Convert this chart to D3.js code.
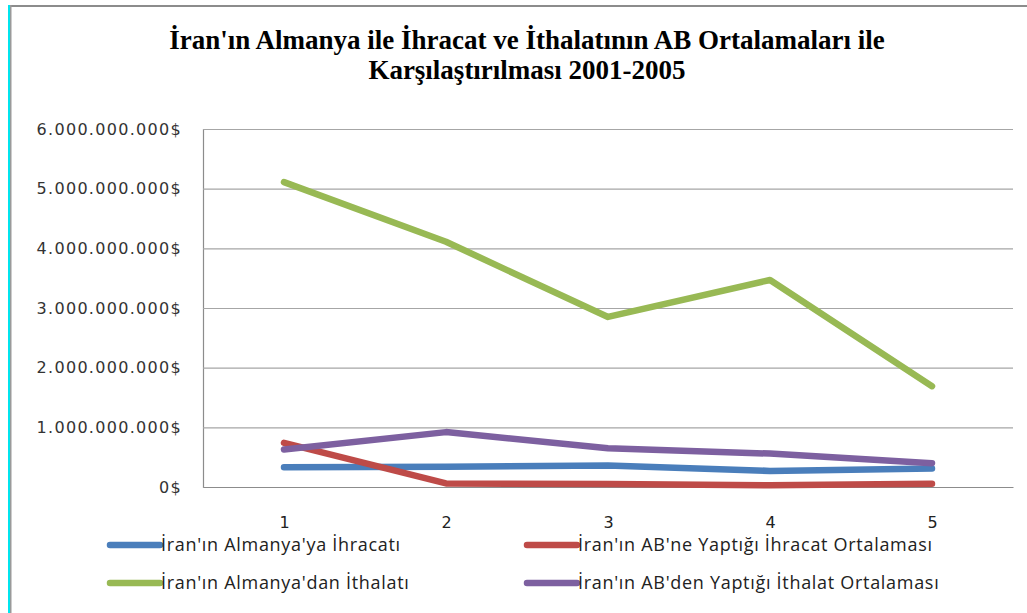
<!DOCTYPE html>
<html>
<head>
<meta charset="utf-8">
<script src="https://cdn.jsdelivr.net/npm/d3@7"></script>
<style>
  html, body { margin: 0; padding: 0; background: #fff; }
  svg { display: block; }
</style>
</head>
<body>
<svg id="chart" width="1027" height="613"></svg>
<script>
// ---- data ----
const categories = ["1", "2", "3", "4", "5"];
const seriesNames = [
  "İran'ın Almanya'ya İhracatı",
  "İran'ın AB'ne Yaptığı İhracat Ortalaması",
  "İran'ın Almanya'dan İthalatı",
  "İran'ın AB'den Yaptığı İthalat Ortalaması"
];
const almanyayaIhracat = [330000000, 340000000, 360000000, 270000000, 310000000];
const abIhracatOrt = [740000000, 60000000, 50000000, 30000000, 55000000];
const almanyadanIthalat = [5110000000, 4110000000, 2850000000, 3470000000, 1690000000];
const abIthalatOrt = [630000000, 920000000, 650000000, 560000000, 400000000];
const yTicks = [0, 1000000000, 2000000000, 3000000000, 4000000000, 5000000000, 6000000000];
const titleLines = ["İran'ın Almanya ile İhracat ve İthalatının AB Ortalamaları ile", "Karşılaştırılması 2001-2005"];

// ---- drawing ----
const svg = d3.select("#chart");
const colors = ["#4A7EBB", "#BE4B48", "#98B954", "#7D60A0"];
const seriesValues = [almanyayaIhracat, abIhracatOrt, almanyadanIthalat, abIthalatOrt];

// outer frame hints
svg.append("rect").attr("x", 8).attr("y", 5).attr("width", 1019).attr("height", 2).attr("fill", "#8c8c8c");
svg.append("rect").attr("x", 10).attr("y", 5).attr("width", 1.5).attr("height", 608).attr("fill", "#9a9a9a");
svg.append("rect").attr("x", 8).attr("y", 5).attr("width", 2).attr("height", 608).attr("fill", "#00e5ee");

// title
svg.append("g").selectAll("text").data(titleLines).join("text")
  .attr("x", 527).attr("y", (d, i) => 49 + i * 30)
  .attr("text-anchor", "middle")
  .attr("font-family", "'Liberation Serif', 'Times New Roman', serif")
  .attr("font-weight", "bold")
  .attr("font-size", 27)
  .attr("letter-spacing", 0)
  .text(d => d);

const plot = { left: 203, right: 1013, top: 129, bottom: 487 };

const x = d3.scalePoint().domain(categories).range([plot.left, plot.right]).padding(0.5);
const y = d3.scaleLinear().domain([0, 6000000000]).range([plot.bottom, plot.top]);

const locale = d3.formatLocale({ decimal: ",", thousands: ".", grouping: [3], currency: ["", "$"] });
const fmt = locale.format(",.0f");

// y axis with gridlines
const yAxis = d3.axisLeft(y).tickValues(yTicks).tickSize(-(plot.right - plot.left)).tickPadding(21)
  .tickFormat(d => fmt(d) + "$");
const gy = svg.append("g").attr("transform", `translate(${plot.left},0)`).call(yAxis);
gy.select(".domain").attr("stroke", "#8c8c8c").attr("stroke-width", 1.2);
gy.selectAll(".tick line").attr("stroke", "#a6a6a6").attr("stroke-width", 1.2);
gy.selectAll(".tick text")
  .attr("font-family", "'DejaVu Sans', sans-serif")
  .attr("font-size", 16)
  .attr("letter-spacing", 1.3)
  .attr("fill", "#333");

// x axis
const xAxis = d3.axisBottom(x).tickSize(0).tickPadding(30);
const gx = svg.append("g").attr("transform", `translate(0,${plot.bottom})`).call(xAxis);
gx.select(".domain").attr("stroke", "#8c8c8c").attr("stroke-width", 1.2);
gx.selectAll(".tick text")
  .attr("font-family", "'DejaVu Sans', sans-serif")
  .attr("font-size", 16)
  .attr("fill", "#222");

// lines
const line = d3.line().x((d, i) => x(categories[i])).y(d => y(d));
svg.append("g").selectAll("path").data(seriesValues).join("path")
  .attr("d", d => line(d))
  .attr("fill", "none")
  .attr("stroke", (d, i) => colors[i])
  .attr("stroke-width", 6.5)
  .attr("stroke-linecap", "round")
  .attr("stroke-linejoin", "round");

// legend
const legendPos = [[110, 545], [527, 545], [110, 583], [527, 583]];
const lg = svg.append("g").selectAll("g").data(seriesNames).join("g")
  .attr("transform", (d, i) => `translate(${legendPos[i][0]},${legendPos[i][1]})`);
lg.append("line").attr("x1", 0).attr("x2", 50).attr("y1", 0).attr("y2", 0)
  .attr("stroke", (d, i) => colors[i]).attr("stroke-width", 6.5).attr("stroke-linecap", "round");
lg.append("text").attr("x", 51).attr("y", 0).attr("dy", "0.36em")
  .attr("font-family", "'Open Sans', sans-serif")
  .attr("font-size", 18)
  .attr("letter-spacing", 0.7)
  .attr("fill", "#222")
  .text(d => d);
</script>
</body>
</html>
